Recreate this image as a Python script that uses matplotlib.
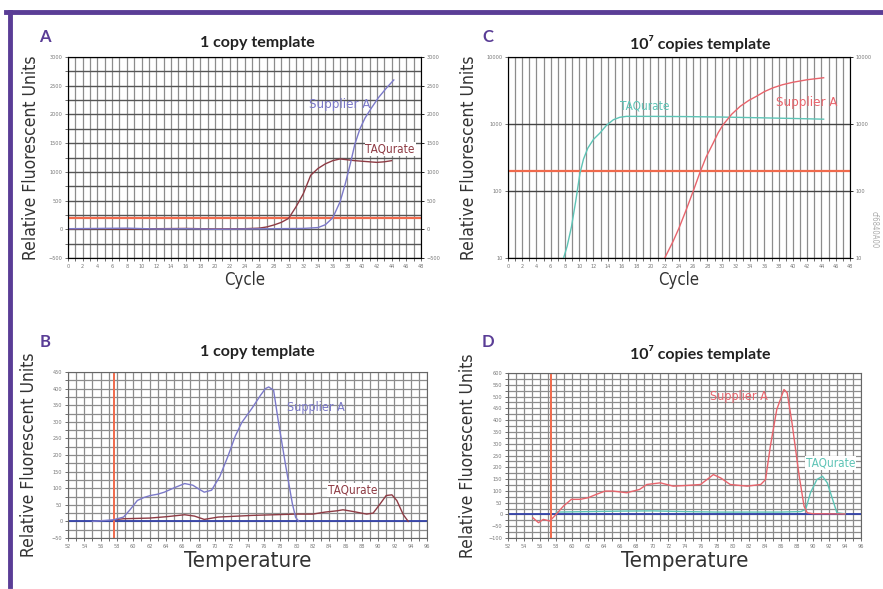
import matplotlib
matplotlib.use("Agg")
import matplotlib.pyplot as plt
from matplotlib.lines import Line2D
import numpy as np

# ---- data ----
# panel A: amplification, 1 copy template (linear RFU)
a_sup_x = [0, 4, 8, 12, 16, 20, 24, 28, 32, 34, 35, 36, 37, 37.7, 38.5, 39, 39.7, 40.4, 41.3, 42.2, 43.3, 44.3]
a_sup_y = [10, 15, 20, 5, 10, 0, 5, 10, 15, 30, 80, 200, 480, 790, 1200, 1480, 1750, 1940, 2120, 2290, 2460, 2600]
a_taq_x = [0, 4, 8, 12, 16, 20, 24, 26, 27, 28, 29, 30, 31, 32, 33, 34, 35, 36, 37, 38, 39, 40, 41, 42, 43, 44]
a_taq_y = [5, 10, 5, 10, 15, 5, 10, 20, 40, 75, 120, 190, 390, 620, 940, 1060, 1140, 1195, 1225, 1210, 1195,
           1185, 1175, 1165, 1175, 1195]
a_threshold = 200

# panel C: amplification, 10^7 copies template (log RFU)
c_taq_x = [7.8, 8.3, 8.9, 9.5, 10.1, 10.6, 11.2, 12, 12.9, 13.8, 14.8, 15.7, 16.6, 20, 25, 30, 35, 40, 44.3]
c_taq_y = [10, 15, 29, 70, 184, 300, 436, 590, 733, 950, 1160, 1260, 1300, 1300, 1290, 1270, 1240, 1210, 1180]
c_sup_x = [22, 23.2, 24, 25, 26, 26.9, 27.8, 28.8, 29.5, 30.2, 31.4, 32.6, 33.8, 34.9, 36, 37.2, 38.5, 40, 42, 44.3]
c_sup_y = [10, 18, 28, 52, 100, 184, 320, 520, 740, 980, 1400, 1840, 2250, 2600, 3050, 3470, 3850, 4200, 4580, 4900]
c_threshold = 200

# panel B: melt curve, 1 copy template
b_sup_x = [55, 57.6, 58.8, 59.6, 60.5, 61.3, 62.1, 63, 63.8, 65, 66.3, 67.3, 68, 68.7, 69.6, 70.6, 71.6, 72.5,
           73.3, 74.5, 75.6, 76.2, 76.6, 77.2, 77.8, 78.7, 79.5, 79.9, 80.3]
b_sup_y = [0, 5, 13, 35, 63, 72, 78, 82, 88, 101, 114, 109, 98, 88, 94, 135, 196, 257, 298, 339, 380, 400, 405,
           395, 298, 165, 53, 12, 0]
b_taq_x = [57.6, 58.8, 62, 64, 66.3, 67.5, 68.7, 70.4, 74.5, 80, 82, 83.5, 85, 85.7, 86.9, 88.6, 89.4, 90.2, 91,
           91.7, 92.3, 93.1, 93.7]
b_taq_y = [5, 8, 10, 14, 20, 16, 6, 13, 18, 22, 22, 28, 32, 35, 30, 22, 25, 51, 78, 80, 63, 20, 0]
b_marker_temp = 57.6

# panel D: melt curve, 10^7 copies template
d_sup_x = [55.1, 55.8, 56.4, 57.2, 57.8, 58.9, 59.9, 61, 62, 63, 64.1, 65.1, 66.8, 68.4, 69.3, 71, 72.6, 74.3,
           76, 76.8, 77.6, 78.5, 79.7, 81.8, 83.5, 84.1, 84.7, 85.5, 86.4, 86.8, 87.4, 88.3, 88.9, 89.3, 90, 94]
d_sup_y = [-14, -35, -21, -28, -7, 35, 64, 64, 71, 85, 99, 99, 92, 106, 127, 134, 120, 123, 127, 148, 169, 155,
           127, 120, 127, 148, 289, 445, 530, 516, 388, 162, 35, 7, 3, 2]
d_taq_x = [58, 62, 66, 70, 74, 78, 82, 86, 88.5, 89.1, 89.7, 90.5, 91.2, 91.8, 92.6, 93, 94]
d_taq_y = [10, 12, 14, 15, 12, 10, 10, 10, 12, 21, 92, 148, 162, 134, 49, 7, 3]
d_marker_temp = 57.3

cycle_ticks = list(range(0, 49, 2))
temp_ticks = list(range(52, 97, 2))

# ---- styling ----
PURPLE = '#5a3d96'
SUP_BLUE = '#7b79c9'
TAQ_DARK = '#8e3b44'
TAQ_TEAL = '#5ec4b6'
SUP_RED = '#e8646c'
THRESH = '#f06a4c'
BASE_BLUE = '#3240a8'
GRID = '#8c8c8c'
NARROW = dict(family='DejaVu Sans', stretch='condensed')
TITLE_FONT = ['Lato', 'DejaVu Sans']

W, H = 883, 589
fig = plt.figure(figsize=(W / 100, H / 100), dpi=100)


def px_axes(left, top, right, bottom):
    return fig.add_axes([left / W, 1 - bottom / H, (right - left) / W, (bottom - top) / H])


def style_axes(ax, xticks, xlim):
    ax.set_xlim(*xlim)
    ax.set_xticks(xticks)
    ax.set_xticks(np.arange(xlim[0], xlim[1] + 1, 1), minor=True)
    ax.tick_params(axis='both', which='both', labelsize=3.6, labelcolor='#777777', color='#555555',
                   length=2, width=0.6, pad=2)
    ax.grid(True, which='both', axis='x', color=GRID, lw=0.9)
    for s in ax.spines.values():
        s.set_color('#666666')
        s.set_linewidth(0.8)
    ax.set_axisbelow(True)


def labels(ax, xlabel, xsize, ysize, ypad):
    ax.set_xlabel(xlabel, fontsize=xsize, color='#333333', labelpad=2, **NARROW)
    ax.set_ylabel('Relative Fluorescent Units', fontsize=ysize, color='#333333', labelpad=ypad, **NARROW)


# Panel A
axA = px_axes(68, 57, 421, 258)
style_axes(axA, cycle_ticks, (0, 48))
axA.set_ylim(-500, 3000)
axA.set_yticks(range(-500, 3001, 500))
axA.set_yticks(range(-500, 3001, 250), minor=True)
axA.grid(True, which='both', axis='y', color='#555555', lw=1.0)
axA.axhline(a_threshold, color=THRESH, lw=1.6)
axA.plot(a_taq_x, a_taq_y, color=TAQ_DARK, lw=1.0)
axA.plot(a_sup_x, a_sup_y, color=SUP_BLUE, lw=1.0)
axA.text(37, 2170, 'Supplier A', color=SUP_BLUE, fontsize=9.5, ha='center', va='center', **NARROW)
axA.text(43.8, 1400, 'TAQurate', color=TAQ_DARK, fontsize=8.5, ha='center', va='center',
         bbox=dict(facecolor='white', edgecolor='none', pad=0.5), **NARROW)
labels(axA, 'Cycle', 12, 12.5, 6)
rA = axA.twinx()
rA.set_ylim(axA.get_ylim())
rA.set_yticks(range(-500, 3001, 500))
rA.tick_params(labelsize=3.6, labelcolor='#777777', length=2, width=0.6, pad=2)

# Panel C
axC = px_axes(508, 57, 850, 258)
style_axes(axC, cycle_ticks, (0, 48))
axC.set_yscale('log')
axC.set_ylim(10, 10000)
axC.set_yticks([10, 100, 1000, 10000])
axC.set_yticklabels(['10', '100', '1000', '10000'])
axC.yaxis.set_minor_locator(matplotlib.ticker.NullLocator())
axC.grid(True, which='major', axis='y', color='#444444', lw=1.0)
axC.axhline(c_threshold, color=THRESH, lw=1.6)
axC.plot(c_taq_x, c_taq_y, color=TAQ_TEAL, lw=1.0)
axC.plot(c_sup_x, c_sup_y, color=SUP_RED, lw=1.0)
axC.text(19.2, 1880, 'TAQurate', color=TAQ_TEAL, fontsize=8.5, ha='center', va='center', **NARROW)
axC.text(41.9, 2100, 'Supplier A', color=SUP_RED, fontsize=9.5, ha='center', va='center', **NARROW)
labels(axC, 'Cycle', 12, 12.5, 6)
rC = axC.twinx()
rC.set_yscale('log')
rC.set_ylim(axC.get_ylim())
rC.set_yticks([10, 100, 1000, 10000])
rC.set_yticklabels(['10', '100', '1000', '10000'])
rC.yaxis.set_minor_locator(matplotlib.ticker.NullLocator())
rC.tick_params(labelsize=3.6, labelcolor='#777777', length=2, width=0.6, pad=2)

# Panel B
axB = px_axes(68, 372, 427, 538)
style_axes(axB, temp_ticks, (52, 96))
axB.set_ylim(-50, 450)
axB.set_yticks(range(-50, 451, 50))
axB.set_yticks(range(-50, 451, 25), minor=True)
axB.grid(True, which='both', axis='y', color=GRID, lw=0.9)
axB.axhline(0, color=BASE_BLUE, lw=1.3)
axB.axvline(b_marker_temp, color=THRESH, lw=1.4)
axB.plot(b_taq_x, b_taq_y, color=TAQ_DARK, lw=1.0)
axB.plot(b_sup_x, b_sup_y, color=SUP_BLUE, lw=1.0)
axB.text(82.4, 342, 'Supplier A', color=SUP_BLUE, fontsize=9, ha='center', va='center', **NARROW)
axB.text(86.9, 94, 'TAQurate', color=TAQ_DARK, fontsize=8.5, ha='center', va='center',
         bbox=dict(facecolor='white', edgecolor='none', pad=0.5), **NARROW)
labels(axB, 'Temperature', 16, 12.5, 10)

# Panel D
axD = px_axes(508, 373, 861, 538)
style_axes(axD, temp_ticks, (52, 96))
axD.set_ylim(-100, 600)
axD.set_yticks(range(-100, 601, 50))
axD.set_yticks(range(-100, 601, 25), minor=True)
axD.grid(True, which='both', axis='y', color=GRID, lw=0.9)
axD.axhline(0, color=BASE_BLUE, lw=1.3)
axD.axvline(d_marker_temp, color=THRESH, lw=1.4)
axD.plot(d_taq_x, d_taq_y, color=TAQ_TEAL, lw=1.0)
axD.plot(d_sup_x, d_sup_y, color=SUP_RED, lw=1.0)
axD.text(80.8, 501, 'Supplier A', color=SUP_RED, fontsize=9, ha='center', va='center', **NARROW)
axD.text(92.2, 219, 'TAQurate', color=TAQ_TEAL, fontsize=8.5, ha='center', va='center',
         bbox=dict(facecolor='white', edgecolor='none', pad=0.5), **NARROW)
labels(axD, 'Temperature', 16, 12.5, 8)

# panel letters and titles
for letter, x, y in [('A', 45, 37), ('C', 488, 37), ('B', 45, 342), ('D', 488, 342)]:
    fig.text(x / W, 1 - y / H, letter, color=PURPLE, fontsize=12, fontweight='bold', family=TITLE_FONT,
             ha='center', va='center')
for title, x, y in [('1 copy template', 257, 43), ('10\u2077 copies template', 700, 43),
                    ('1 copy template', 257, 352), ('10\u2077 copies template', 700, 353)]:
    fig.text(x / W, 1 - y / H, title, color='#222222', fontsize=11.5, fontweight='bold', family=TITLE_FONT,
             ha='center', va='center')

# catalogue code on right edge
fig.text(874 / W, 1 - 230 / H, 'cf6840A00', rotation=270, fontsize=5.5, color='#aaaaaa',
         ha='center', va='center', **NARROW)

# purple frame (top and left)
fig.add_artist(Line2D([6 / W, 1], [1 - 12 / H, 1 - 12 / H], color=PURPLE, lw=3.5))
fig.add_artist(Line2D([10 / W, 10 / W], [1 - 12 / H, 1 - 586 / H], color=PURPLE, lw=3.5))

fig.savefig('out.png', dpi=100)
